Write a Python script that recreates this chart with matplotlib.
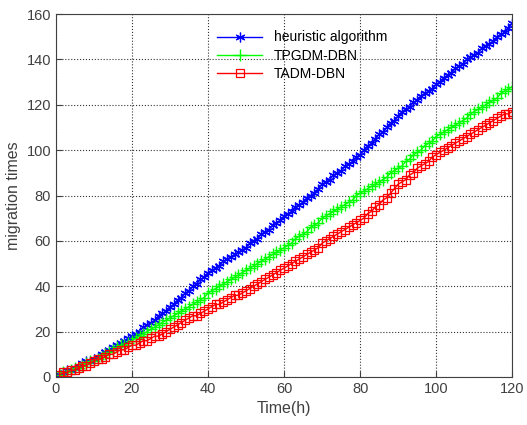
import numpy as np
import matplotlib.pyplot as plt

plt.rcParams['font.family'] = ['Liberation Sans', 'DejaVu Sans']

# hours 1..120
hours = np.arange(1, 121)

heuristic = [1, 2, 3, 3, 4, 5, 6, 7, 7, 8,
             9, 10, 11, 12, 13, 14, 15, 16, 17, 18,
             19, 20, 22, 23, 24, 25, 27, 28, 29, 31,
             32, 34, 35, 37, 38, 40, 41, 43, 44, 46,
             47, 48, 49, 51, 52, 53, 54, 55, 56, 57,
             59, 60, 61, 63, 64, 65, 67, 68, 69, 71,
             72, 73, 75, 76, 77, 79, 80, 81, 83, 85,
             86, 87, 89, 90, 91, 93, 94, 95, 97, 98,
             100, 102, 103, 105, 107, 108, 110, 112, 113, 115,
             117, 118, 119, 121, 122, 124, 125, 126, 127, 129,
             130, 132, 133, 134, 136, 137, 138, 140, 141, 142,
             143, 145, 146, 147, 148, 150, 151, 152, 154, 156]

tpgdm = [1, 2, 2, 3, 4, 4, 5, 6, 7, 7,
         8, 9, 10, 11, 12, 13, 14, 14, 15, 16,
         17, 18, 19, 20, 21, 22, 23, 24, 25, 26,
         27, 28, 29, 30, 31, 32, 33, 34, 35, 37,
         38, 39, 40, 41, 42, 43, 44, 45, 46, 47,
         48, 49, 50, 51, 52, 53, 54, 55, 56, 57,
         58, 59, 61, 62, 63, 64, 66, 67, 68, 70,
         71, 72, 73, 74, 75, 76, 77, 78, 80, 81,
         82, 83, 84, 85, 86, 87, 88, 90, 91, 92,
         93, 95, 96, 98, 99, 100, 102, 103, 104, 106,
         107, 108, 109, 110, 111, 112, 113, 114, 116, 117,
         118, 119, 120, 121, 122, 123, 125, 126, 127, 128]

tadm = [1, 2, 2, 3, 3, 4, 5, 5, 6, 7,
        8, 8, 9, 10, 10, 11, 12, 12, 13, 14,
        14, 15, 16, 16, 17, 18, 18, 19, 20, 21,
        22, 23, 24, 25, 26, 27, 27, 28, 29, 30,
        31, 32, 32, 33, 34, 35, 36, 36, 37, 38,
        39, 40, 41, 42, 43, 44, 45, 46, 47, 48,
        49, 50, 51, 52, 53, 54, 55, 56, 57, 59,
        60, 61, 62, 63, 64, 65, 66, 67, 68, 69,
        70, 72, 73, 75, 76, 78, 79, 81, 83, 85,
        86, 87, 89, 90, 92, 93, 94, 95, 97, 98,
        99, 100, 101, 102, 103, 104, 105, 106, 107, 108,
        109, 110, 111, 112, 113, 114, 115, 116, 116, 117]

fig = plt.figure(figsize=(5.27, 4.25), dpi=100)
ax = fig.add_axes([0.106, 0.113, 0.866, 0.854])

ax.plot(hours, heuristic, color='#0000ff', marker=(6, 2, 0), markersize=7,
        markeredgewidth=0.9, lw=1, label='heuristic algorithm')
ax.plot(hours, tpgdm, color='#00ff00', marker='+', markersize=8,
        markeredgewidth=1, lw=1, label='TPGDM-DBN')
ax.plot(hours, tadm, color='#ff0000', marker='s', markersize=6, mfc='none',
        markeredgewidth=0.9, lw=1, label='TADM-DBN')

ax.set_xlim(0, 120)
ax.set_ylim(0, 160)
ax.set_xticks(range(0, 121, 20))
ax.set_yticks(range(0, 161, 20))
ax.grid(True, linestyle=':', color='black', linewidth=0.8, alpha=0.8)
ax.tick_params(direction='in', labelsize=10.5, colors='#404040', length=4)
for s in ax.spines.values():
    s.set_color('#404040')

ax.set_xlabel('Time(h)', fontsize=11.5, color='#404040')
ax.set_ylabel('migration times', fontsize=11.5, color='#404040')

ax.legend(loc='upper left', bbox_to_anchor=(0.34, 0.97), frameon=False,
          fontsize=10, handlelength=3.3, labelspacing=0.3, borderaxespad=0)

fig.savefig('out.png', dpi=100)
